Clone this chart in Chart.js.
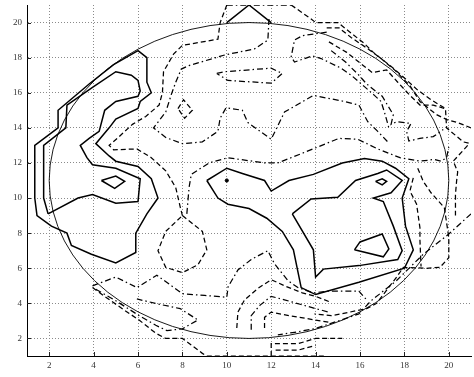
<!DOCTYPE html>
<html>
<head>
<meta charset="utf-8">
<script src="https://cdn.jsdelivr.net/npm/chart.js@4"></script>
<style>
  html, body { margin: 0; padding: 0; background: #fff; overflow: hidden; }
  #wrap { width: 476px; height: 377px; }
</style>
</head>
<body>
<div id="wrap"><canvas id="c" width="476" height="377"></canvas></div>
<script>
// Axis ticks
const xTicks = [2, 4, 6, 8, 10, 12, 14, 16, 18, 20];
const yTicks = [2, 4, 6, 8, 10, 12, 14, 16, 18, 20];

// Reference ring (centre, radius in data units)
const ringCenter = [11, 11];
const ringRadius = 9;

// Contour paths, [x, y] in data units
const leftOuter = [[6.0,18.4],[6.4,18.0],[6.4,16.6],[6.6,16.0],[6.1,15.5],[6.0,15.1],[5.0,14.5],[4.7,14.0],[4.1,13.1],[4.7,12.4],[5.0,12.1],[6.0,11.8],[6.6,11.1],[6.9,10.0],[6.4,9.1],[5.9,8.0],[5.9,6.9],[5.0,6.3],[3.9,6.8],[3.0,7.3],[2.8,8.0],[2.1,8.4],[1.45,9.0],[1.35,10.0],[1.35,13.0],[2.4,14.0],[2.4,15.0],[3.8,16.5],[4.9,17.6],[6.0,18.4]];
const leftInner = [[1.95,9.1],[3.3,10.0],[3.95,10.2],[5.0,9.7],[6.0,9.8],[6.1,11.1],[5.0,11.7],[3.95,11.9],[3.7,12.3],[3.4,13.0],[3.8,13.4],[4.25,13.8],[4.5,15.0],[5.0,15.5],[6.0,15.8],[6.1,16.1],[6.0,16.7],[5.7,17.0],[5.0,17.2],[3.95,16.3],[2.8,15.3],[2.75,14.0],[1.75,13.0],[1.75,10.0],[1.95,9.1]];
const leftCore = [[4.35,11.0],[5.0,11.25],[5.4,10.95],[4.95,10.55],[4.35,11.0]];
const rightOuter = [[9.1,11.0],[10.0,11.7],[10.7,11.4],[11.7,11.0],[12.0,10.4],[12.8,11.0],[13.9,11.35],[15.2,12.0],[16.2,12.25],[17.0,12.1],[17.6,11.7],[18.2,11.1],[17.9,10.0],[18.05,8.4],[18.4,7.05],[18.0,6.0],[15.95,5.2],[14.0,4.5],[13.35,4.9],[13.0,7.05],[12.5,8.1],[11.8,8.85],[11.0,9.4],[10.05,9.65],[9.6,10.0],[9.1,11.0]];
const rightInner = [[12.95,9.1],[13.8,9.95],[15.0,10.05],[15.8,11.0],[16.8,11.4],[17.2,11.6],[17.9,11.0],[17.4,10.3],[16.6,10.0],[17.05,9.8],[17.5,8.4],[17.9,7.0],[17.7,6.5],[15.95,6.15],[14.35,5.95],[14.0,5.5],[13.9,7.05],[12.95,9.1]];
const rightCoreA = [[16.7,10.95],[17.0,11.1],[17.2,10.95],[17.0,10.75],[16.7,10.95]];
const rightCoreB = [[15.75,7.05],[16.0,7.5],[17.0,7.95],[17.3,7.1],[17.05,6.65],[15.75,7.05]];
const topRidge = [[10.0,20.0],[11.0,21.0],[12.0,20.0]];
const peakMark = [[10.0,11.0]];

const westFront = [[10.0,21.0],[9.7,20.0],[9.6,19.05],[8.0,18.7],[7.6,18.2],[7.15,17.2],[7.1,16.0],[6.95,15.3],[6.35,14.65],[5.75,14.2],[5.15,13.5],[4.7,13.0],[4.9,12.75],[5.95,12.8],[6.6,12.3],[7.25,11.55],[7.7,10.6],[7.9,9.5],[8.0,9.0]];
const topEdge = [[10.0,21.0],[12.9,21.0]];
const saddleLoop = [[8.0,9.0],[8.9,8.1],[9.1,7.05],[8.7,6.2],[8.0,5.75],[7.25,6.05],[6.9,7.0],[7.25,8.1],[8.0,9.0]];
const midBand = [[8.2,9.1],[8.3,10.6],[8.4,11.35],[9.2,12.0],[10.05,12.3],[11.7,12.0],[12.3,12.0],[13.3,12.5],[15.05,13.4],[15.9,13.35],[16.8,12.8],[17.8,12.3],[18.7,12.1],[19.35,12.2],[19.65,12.1],[19.9,12.3],[20.0,12.9]];
const northBand = [[11.9,20.2],[11.85,19.0],[11.25,18.5],[9.9,18.15],[8.3,17.55],[7.95,17.35],[7.7,16.6],[7.5,15.9],[7.25,14.9],[6.7,14.0],[7.25,13.45],[8.0,13.1],[8.9,13.2],[9.6,13.8],[9.7,14.55],[9.97,15.15],[10.7,15.0],[10.95,14.3],[12.0,13.35],[12.6,14.9],[13.9,15.85],[15.3,15.5],[15.95,15.3],[16.35,14.35],[16.8,13.8],[17.25,13.2]];
const northLoop = [[9.55,17.1],[9.9,17.2],[12.0,17.4],[12.5,17.1],[12.0,16.55],[10.05,16.7],[9.55,17.1]];
const smallLoop = [[7.8,15.1],[8.05,15.6],[8.45,15.0],[8.1,14.55],[7.8,15.1]];

const fanOuter = [[12.9,21.0],[13.8,20.2],[14.0,20.0],[15.0,20.0],[15.65,19.35],[16.2,18.8],[16.6,18.3],[17.05,17.85],[17.5,17.4],[17.95,16.9],[18.6,16.15],[19.2,15.6],[19.85,15.1],[19.9,14.0],[20.65,13.2],[21.0,13.1]];
const fanSecond = [[14.5,19.7],[15.05,19.7],[15.6,19.15],[16.3,18.55],[17.0,17.9],[17.6,17.25],[18.25,16.4],[18.7,15.5],[19.45,14.75],[19.95,14.45],[20.4,14.3],[21.0,14.0]];
const fanThird = [[14.5,19.45],[13.4,19.25],[13.05,19.0],[12.9,18.05],[13.05,17.75],[13.85,18.1],[14.25,17.95],[15.15,17.4],[15.6,17.0],[16.2,16.35],[16.65,15.85],[16.95,15.5],[17.1,14.9],[17.3,14.0]];
const fanFourth = [[14.6,18.9],[15.4,18.3],[16.55,17.15],[17.2,17.3],[17.7,16.6],[18.25,15.85],[18.7,15.3],[19.3,15.3],[19.8,15.1]];
const fanFifth = [[14.7,18.4],[15.35,17.75],[15.95,17.0],[16.3,16.5],[17.0,15.8],[17.5,14.75],[17.4,14.2],[17.65,14.35],[18.3,14.25],[18.1,13.8],[18.2,13.25],[18.7,13.4],[19.3,13.5],[19.75,13.9]];
const eastOuter = [[20.85,13.0],[20.2,12.1],[20.4,11.5],[20.35,10.95],[20.3,10.2],[20.3,9.0]];
const eastRing = [[18.6,11.7],[18.85,10.95],[19.2,10.3],[19.8,9.45],[20.0,7.75],[20.0,6.6],[19.6,6.05],[19.0,6.0],[17.95,6.05],[17.65,5.5],[17.2,4.75],[16.75,4.0],[16.3,3.7],[15.15,3.4],[14.7,3.3],[13.95,3.4]];
const eastInner = [[18.4,11.15],[18.25,10.4],[18.55,9.65],[18.7,8.3],[18.7,7.6],[18.75,6.1]];
const southEast = [[21.0,9.1],[20.0,7.95],[18.85,6.8],[18.25,6.05],[17.65,5.3],[16.5,4.15],[15.95,3.4],[15.15,3.05],[13.95,2.55],[13.05,2.35],[12.3,2.2]];
const southBand = [[3.95,5.0],[5.0,5.5],[5.95,4.9],[6.85,5.6],[8.0,4.55],[9.0,4.45],[10.0,4.35],[10.06,4.95],[10.5,5.9],[11.1,6.5],[11.85,7.0],[12.15,6.25],[12.75,5.3],[13.2,4.9],[13.9,4.6],[14.6,4.7],[15.95,4.7],[16.3,4.2]];
const archOne = [[10.45,2.6],[10.5,3.5],[10.8,4.2],[11.4,4.85],[12.0,5.35],[12.6,5.0],[13.4,4.6],[14.0,4.4],[14.6,4.1]];
const archTwo = [[11.1,2.5],[11.1,3.3],[11.5,3.9],[12.0,4.4],[12.6,4.2],[13.3,3.95],[14.0,3.7],[14.6,3.5]];
const archThree = [[11.7,2.6],[11.7,3.2],[12.0,3.5],[12.8,3.3],[14.0,3.05],[14.7,2.9]];
const floorOne = [[12.0,1.0],[12.0,1.7],[13.2,1.7],[14.0,2.0],[15.2,2.0]];
const floorTwo = [[12.2,1.33],[13.2,1.33],[14.0,1.6]];
const floorEdge = [[9.1,1.0],[14.5,1.0]];
const southWestA = [[3.95,4.9],[4.55,4.35],[5.4,3.6],[6.05,3.05],[6.8,2.3],[7.25,2.0],[8.0,2.0],[8.9,1.15],[9.1,1.0]];
const southWestB = [[4.1,4.8],[5.0,4.15],[6.05,3.3],[6.8,2.75],[7.3,2.45],[8.0,2.55],[8.7,3.05],[7.9,3.7],[6.95,3.95],[5.95,4.25]];

const solid = { borderWidth: 1.5, borderDash: [] };
const dash = { borderWidth: 1.25, borderDash: [5, 3] };
const dashDot = { borderWidth: 1.25, borderDash: [6, 3, 1.5, 3] };

const paths = [
  [leftOuter, solid], [leftInner, solid], [leftCore, solid],
  [rightOuter, solid], [rightInner, solid], [rightCoreA, solid], [rightCoreB, solid],
  [topRidge, solid],
  [westFront, dash], [topEdge, dashDot], [saddleLoop, dash], [midBand, dashDot],
  [northBand, dashDot], [northLoop, dashDot], [smallLoop, dash],
  [fanOuter, dash], [fanSecond, dash], [fanThird, dashDot], [fanFourth, dash], [fanFifth, dashDot],
  [eastOuter, dash], [eastRing, dash], [eastInner, dash], [southEast, dashDot],
  [southBand, dashDot], [archOne, dash], [archTwo, dashDot], [archThree, dash],
  [floorOne, dash], [floorTwo, dash], [floorEdge, dash],
  [southWestA, dash], [southWestB, dashDot]
];

const datasets = paths.map(([pts, st]) => ({
  data: pts.map(([x, y]) => ({ x, y })),
  showLine: true,
  pointRadius: 0,
  borderColor: '#000',
  borderWidth: st.borderWidth,
  borderDash: st.borderDash,
  borderJoinStyle: 'miter',
  tension: 0,
  fill: false
}));
datasets.push({
  data: peakMark.map(([x, y]) => ({ x, y })),
  showLine: false,
  pointRadius: 1.6,
  backgroundColor: '#000',
  borderColor: '#000'
});

// Circle in data units plus short inward tick marks
const extras = {
  id: 'extras',
  afterDatasetsDraw(chart) {
    const { ctx, scales: { x, y }, chartArea: a } = chart;
    const cx = x.getPixelForValue(ringCenter[0]);
    const cy = y.getPixelForValue(ringCenter[1]);
    const rx = Math.abs(x.getPixelForValue(ringCenter[0] + ringRadius) - cx);
    const ry = Math.abs(y.getPixelForValue(ringCenter[1] + ringRadius) - cy);
    ctx.save();
    ctx.beginPath();
    ctx.ellipse(cx, cy, rx, ry, 0, 0, Math.PI * 2);
    ctx.lineWidth = 0.9;
    ctx.strokeStyle = '#000';
    ctx.setLineDash([]);
    ctx.stroke();
    ctx.lineWidth = 1;
    ctx.strokeStyle = '#222';
    ctx.beginPath();
    xTicks.forEach(v => {
      const px = Math.round(x.getPixelForValue(v)) + 0.5;
      ctx.moveTo(px, a.bottom);
      ctx.lineTo(px, a.bottom - 4);
    });
    yTicks.forEach(v => {
      const py = Math.round(y.getPixelForValue(v)) + 0.5;
      ctx.moveTo(a.left, py);
      ctx.lineTo(a.left + 4, py);
    });
    ctx.stroke();
    ctx.restore();
  }
};

const tickFont = { family: "'Liberation Serif', 'DejaVu Serif', serif", size: 9 };
const noPad = s => { s.paddingTop = 0; s.paddingBottom = 0; s.paddingLeft = 0; s.paddingRight = 0; };

new Chart(document.getElementById('c'), {
  type: 'scatter',
  data: { datasets },
  options: {
    responsive: false,
    animation: false,
    devicePixelRatio: 1,
    layout: { padding: { top: 3, right: 0, left: 0, bottom: 0 } },
    plugins: { legend: { display: false }, tooltip: { enabled: false } },
    scales: {
      x: {
        type: 'linear', min: 1, max: 21,
        afterBuildTicks: s => { s.ticks = xTicks.map(v => ({ value: v })); },
        afterFit: s => { s.height = 21; noPad(s); },
        ticks: { font: tickFont, color: '#333', padding: 4, maxRotation: 0 },
        grid: { color: '#8a8a8a', lineWidth: 1, drawTicks: false },
        border: { display: true, color: '#000', width: 1, dash: [1, 2] }
      },
      y: {
        type: 'linear', min: 1, max: 21,
        afterBuildTicks: s => { s.ticks = yTicks.map(v => ({ value: v })); },
        afterFit: s => { s.width = 27; noPad(s); },
        ticks: { font: tickFont, color: '#333', padding: 5 },
        grid: { color: '#8a8a8a', lineWidth: 1, drawTicks: false },
        border: { display: true, color: '#000', width: 1, dash: [1, 2] }
      }
    }
  },
  plugins: [extras]
});
</script>
</body>
</html>
